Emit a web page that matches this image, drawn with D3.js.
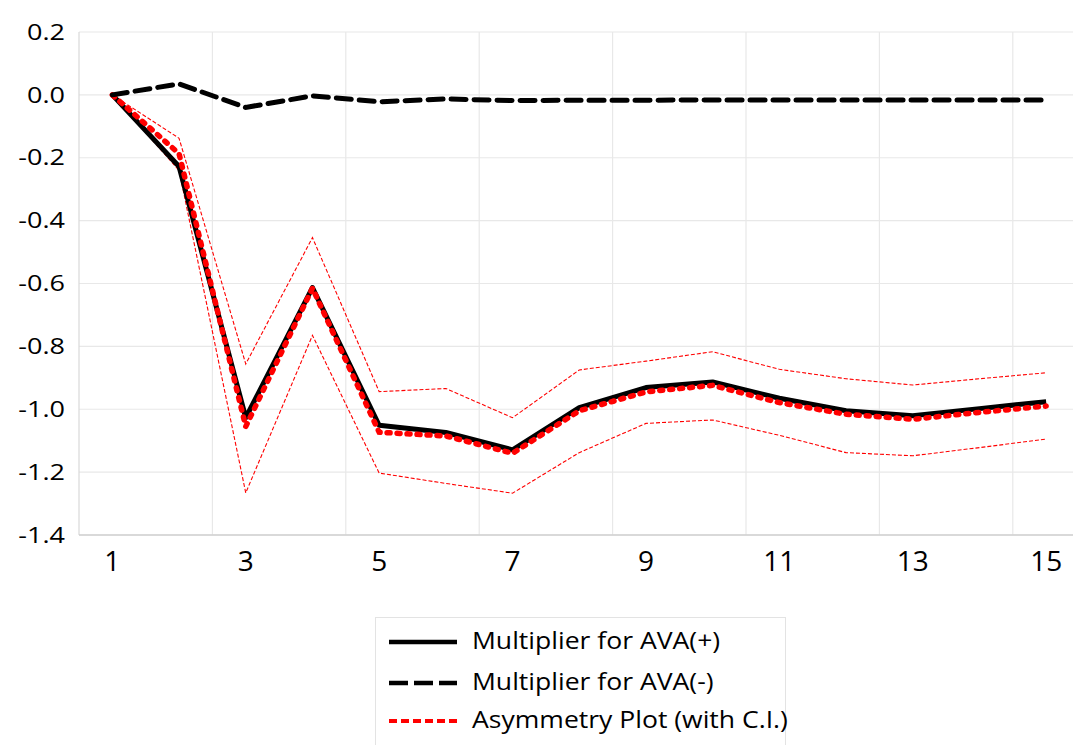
<!DOCTYPE html>
<html>
<head>
<meta charset="utf-8">
<script src="https://cdn.jsdelivr.net/npm/d3@7"></script>
<style>
  body { margin: 0; background: #fff; }
  svg { display: block; font-family: "Open Sans", sans-serif; }
</style>
</head>
<body>
<svg id="chart"></svg>
<script>
const periods = [1, 2, 3, 4, 5, 6, 7, 8, 9, 10, 11, 12, 13, 14, 15];
const avaPos = [0, -0.228, -1.027, -0.613, -1.051, -1.074, -1.129, -0.995, -0.931, -0.913, -0.965, -1.005, -1.021, -0.998, -0.976];
const avaNeg = [0, 0.035, -0.04, -0.003, -0.022, -0.013, -0.018, -0.017, -0.017, -0.016, -0.016, -0.016, -0.016, -0.016, -0.016];
const asym = [0, -0.187, -1.055, -0.615, -1.073, -1.085, -1.14, -1.005, -0.945, -0.924, -0.979, -1.016, -1.032, -1.01, -0.99];
const ciUpper = [0, -0.138, -0.856, -0.454, -0.944, -0.934, -1.027, -0.875, -0.847, -0.817, -0.873, -0.903, -0.923, -0.903, -0.884];
const ciLower = [0, -0.24, -1.266, -0.765, -1.203, -1.236, -1.267, -1.138, -1.045, -1.034, -1.083, -1.138, -1.148, -1.122, -1.095];
const yTicks = [0.2, 0.0, -0.2, -0.4, -0.6, -0.8, -1.0, -1.2, -1.4];
const xTicks = [1, 3, 5, 7, 9, 11, 13, 15];
const legendLabels = ["Multiplier for AVA(+)", "Multiplier for AVA(-)", "Asymmetry Plot (with C.I.)"];

const W = 1073, H = 745;
const plot = { left: 79, top: 32, bottom: 535, step: 66.7 };

const svg = d3.select("#chart").attr("width", W).attr("height", H);

const x = d3.scaleBand().domain(periods).range([plot.left, plot.left + periods.length * plot.step]);
const cx = (d) => x(d) + x.bandwidth() / 2;
const y = d3.scaleLinear().domain([-1.4, 0.2]).range([plot.bottom, plot.top]);

// grid
svg.append("g")
  .selectAll("line")
  .data(yTicks)
  .join("line")
  .attr("x1", plot.left).attr("x2", W)
  .attr("y1", (d) => y(d)).attr("y2", (d) => y(d))
  .attr("stroke", "#e8e8e8").attr("stroke-width", 1.2);

svg.append("g")
  .selectAll("line")
  .data(periods.filter((d) => d % 2 === 0))
  .join("line")
  .attr("x1", (d) => x(d) + x.bandwidth()).attr("x2", (d) => x(d) + x.bandwidth())
  .attr("y1", plot.top).attr("y2", plot.bottom)
  .attr("stroke", "#e8e8e8").attr("stroke-width", 1.2);

svg.append("line")
  .attr("x1", plot.left).attr("x2", plot.left).attr("y1", plot.top).attr("y2", plot.bottom)
  .attr("stroke", "#d9d9d9").attr("stroke-width", 1.2);
svg.append("line")
  .attr("x1", plot.left).attr("x2", W).attr("y1", plot.bottom).attr("y2", plot.bottom)
  .attr("stroke", "#d0d0d0").attr("stroke-width", 1.5);

// tick labels
svg.append("g")
  .selectAll("text")
  .data(yTicks)
  .join("text")
  .attr("transform", (d) => `translate(65,${y(d)}) scale(1.2,1)`)
  .attr("dy", "0.34em")
  .attr("text-anchor", "end")
  .style("font-size", "22.5px")
  .attr("fill", "#000")
  .text((d) => d3.format(".1f")(d).replace("−", "-"));

svg.append("g")
  .selectAll("text")
  .data(xTicks)
  .join("text")
  .attr("x", (d) => cx(d))
  .attr("y", 571)
  .attr("text-anchor", "middle")
  .style("font-size", "28px")
  .attr("fill", "#000")
  .text((d) => d);

const line = (vals) => d3.line().x((d, i) => cx(periods[i])).y((d) => y(d))(vals);

// series
[ciUpper, ciLower].forEach((vals) => {
  svg.append("path")
    .attr("d", line(vals))
    .attr("fill", "none")
    .attr("stroke", "#ff0000")
    .attr("stroke-width", 1.1)
    .attr("stroke-dasharray", "4,2");
});

svg.append("path")
  .attr("d", line(avaPos))
  .attr("fill", "none")
  .attr("stroke", "#000")
  .attr("stroke-width", 5)
  .attr("stroke-linejoin", "round");

svg.append("path")
  .attr("d", line(asym))
  .attr("fill", "none")
  .attr("stroke", "#ff0000")
  .attr("stroke-width", 5.5)
  .attr("stroke-linecap", "round")
  .attr("stroke-dasharray", "3,7");

svg.append("path")
  .attr("d", line(avaNeg))
  .attr("fill", "none")
  .attr("stroke", "#000")
  .attr("stroke-width", 5)
  .attr("stroke-linecap", "round")
  .attr("stroke-dasharray", "15,8");

// legend
const legend = svg.append("g");
legend.append("rect")
  .attr("x", 375.5).attr("y", 617.5)
  .attr("width", 410).attr("height", 140)
  .attr("fill", "#fff")
  .attr("stroke", "#e3e3e3")
  .attr("stroke-width", 1);

const legendStyles = [
  { color: "#000", width: 4.5, dash: null },
  { color: "#000", width: 4.5, dash: "19,6" },
  { color: "#ff0000", width: 4, dash: "8,4" }
];
const rowY = [642, 683, 721];

legendLabels.forEach((label, i) => {
  legend.append("line")
    .attr("x1", 389).attr("x2", 457)
    .attr("y1", rowY[i]).attr("y2", rowY[i])
    .attr("stroke", legendStyles[i].color)
    .attr("stroke-width", legendStyles[i].width)
    .attr("stroke-dasharray", legendStyles[i].dash);
  legend.append("text")
    .attr("transform", `translate(472,${rowY[i] + 7}) scale(1.13,1)`)
    .style("font-size", "23.5px")
    .attr("fill", "#000")
    .text(label);
});
</script>
</body>
</html>
